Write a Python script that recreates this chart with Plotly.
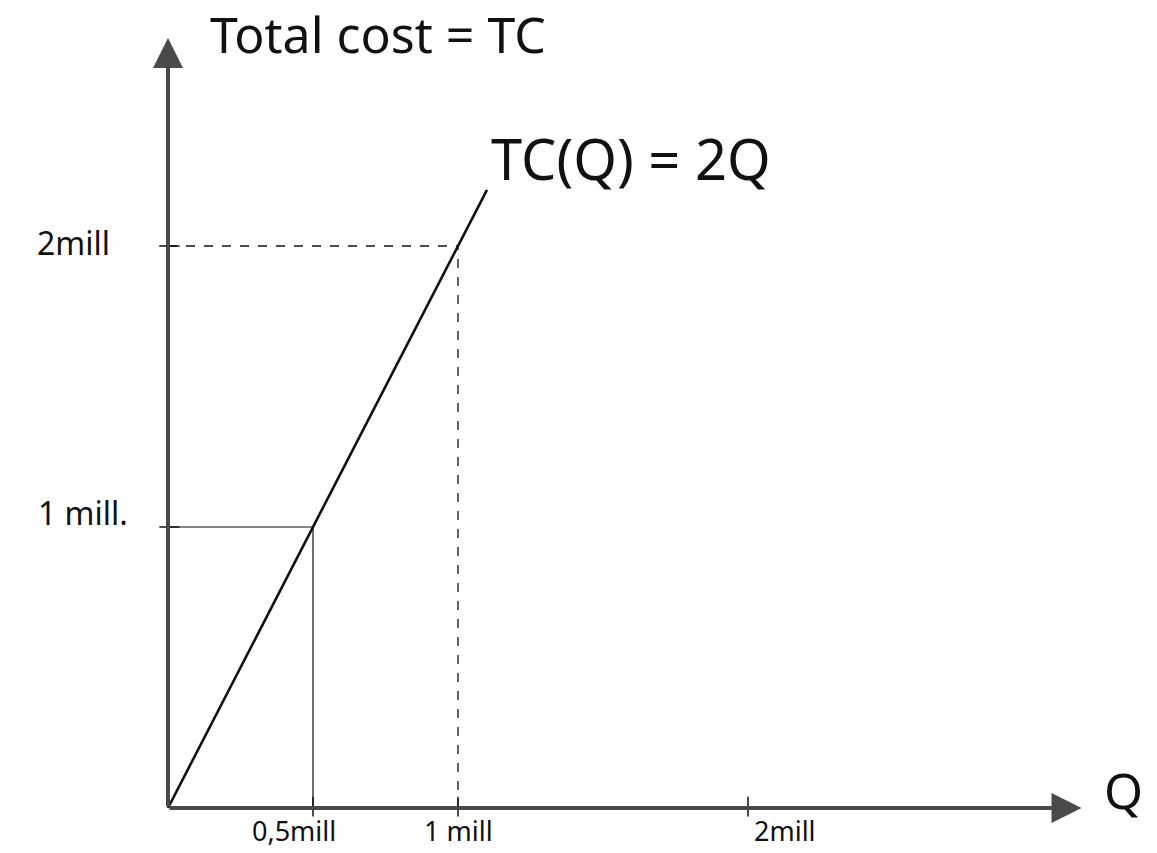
import plotly.graph_objects as go

# ---- data ----
q_ticks = [0.5, 1, 2]
q_tick_labels = ["0,5mill", "1 mill", "2mill"]
tc_ticks = [1, 2]
tc_tick_labels = ["1 mill.", "2mill"]
line_q = [0, 1.1]
line_tc = [0, 2.2]
x_axis_end = 3.15
y_axis_end = 2.74

W, H = 1157, 853
x_ppu, y_ppu = 290.0, 281.0
ox, oy = 168.0, 808.0
x_range = [-ox / x_ppu, (W - ox) / x_ppu]
y_range = [-(H - oy) / y_ppu, oy / y_ppu]

FONT = "Noto Sans"
INK = "#111111"
AXIS = "#4a4a4a"

fig = go.Figure()

# guide lines
gx, gy = q_ticks[1], tc_ticks[1]
fig.add_trace(go.Scatter(x=[0, gx], y=[gy, gy], mode="lines",
                         line=dict(color=INK, width=1.3, dash="dash"), hoverinfo="skip"))
fig.add_trace(go.Scatter(x=[gx, gx], y=[0, gy], mode="lines",
                         line=dict(color=INK, width=1.3, dash="dash"), hoverinfo="skip"))
hx, hy = q_ticks[0], tc_ticks[0]
fig.add_trace(go.Scatter(x=[0, hx], y=[hy, hy], mode="lines",
                         line=dict(color=INK, width=1.2), hoverinfo="skip"))
fig.add_trace(go.Scatter(x=[hx, hx], y=[0, hy], mode="lines",
                         line=dict(color=INK, width=1.2), hoverinfo="skip"))

# TC line
fig.add_trace(go.Scatter(x=line_q, y=line_tc, mode="lines",
                         line=dict(color=INK, width=2.6), hoverinfo="skip"))

# tick marks
for q in q_ticks:
    fig.add_trace(go.Scatter(x=[q, q], y=[-0.03, 0.04], mode="lines",
                             line=dict(color=INK, width=1.5), hoverinfo="skip"))
for t in tc_ticks:
    fig.add_trace(go.Scatter(x=[-0.03, 0.04], y=[t, t], mode="lines",
                             line=dict(color=INK, width=1.5), hoverinfo="skip"))

annotations = []
# axes as arrows
for (xe, ye) in [(x_axis_end, 0), (0, y_axis_end)]:
    annotations.append(dict(x=xe, y=ye, ax=0, ay=0, xref="x", yref="y",
                            axref="x", ayref="y", showarrow=True, text="",
                            arrowhead=2, arrowsize=1.5, arrowwidth=4, arrowcolor=AXIS))

# tick labels
q_shifts = [-19, 0, 37]
for q, lab, s in zip(q_ticks, q_tick_labels, q_shifts):
    annotations.append(dict(x=q, y=0, xref="x", yref="y", text=lab, showarrow=False,
                            yanchor="top", yshift=-3, xshift=s, borderpad=0,
                            font=dict(family=FONT, size=27, color=INK)))
tc_shifts = [(-38, 15), (-56, 4)]
for t, lab, (xs, ys) in zip(tc_ticks, tc_tick_labels, tc_shifts):
    annotations.append(dict(x=0, y=t, xref="x", yref="y", text=lab, showarrow=False,
                            xanchor="right", xshift=xs, yshift=ys,
                            font=dict(family=FONT, size=32, color=INK)))

# titles
annotations.append(dict(x=0, y=y_axis_end, xref="x", yref="y", text="Total cost = TC",
                        showarrow=False, xanchor="left", yanchor="middle",
                        xshift=40, yshift=4,
                        font=dict(family=FONT, size=50, color=INK)))
annotations.append(dict(x=line_q[1], y=line_tc[1], xref="x", yref="y", text="TC(Q) = 2Q",
                        showarrow=False, xanchor="left", yanchor="middle",
                        xshift=2, yshift=32,
                        font=dict(family=FONT, size=56, color=INK)))
annotations.append(dict(x=x_axis_end, y=0, xref="x", yref="y", text="Q",
                        showarrow=False, xanchor="left", yanchor="middle",
                        xshift=20, yshift=18,
                        font=dict(family=FONT, size=50, color=INK)))

fig.update_layout(
    width=W, height=H,
    margin=dict(l=0, r=0, t=0, b=0),
    paper_bgcolor="white", plot_bgcolor="white",
    showlegend=False,
    xaxis=dict(range=x_range, visible=False, fixedrange=True),
    yaxis=dict(range=y_range, visible=False, fixedrange=True),
    annotations=annotations,
)

fig.write_html("out.html",
               config={"displayModeBar": False},
               post_script="document.body.style.margin='0';document.body.style.overflow='hidden';")
